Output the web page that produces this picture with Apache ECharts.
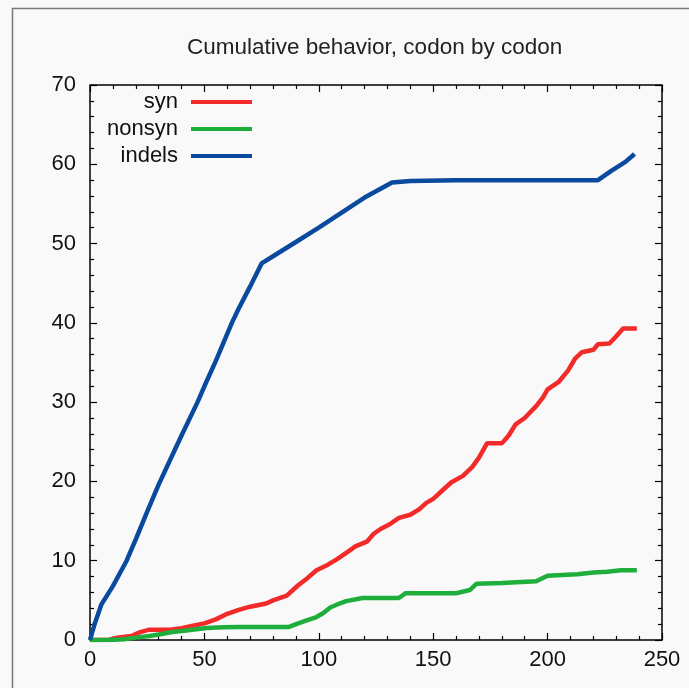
<!DOCTYPE html>
<html>
<head>
<meta charset="utf-8">
<title>Cumulative behavior, codon by codon</title>
<script src="https://cdn.jsdelivr.net/npm/echarts@6/dist/echarts.min.js"></script>
<style>
  html, body { margin: 0; padding: 0; background: #f9f9f9; }
  #chart { width: 689px; height: 688px; }
</style>
</head>
<body>
<div id="chart"></div>
<script>
// tick labels
const xTicks = [0, 50, 100, 150, 200, 250]
const yTicks = [0, 10, 20, 30, 40, 50, 60, 70]

// syn (red)
const synX = [0, 8, 12, 18, 22, 26, 35, 40, 45, 50, 55, 60, 65, 70, 77, 80, 86, 91, 95, 99, 104, 108, 112, 116, 121, 124, 127, 131, 135, 140, 144, 147, 150, 153, 158, 163, 167, 170, 173.5, 180, 183, 186, 190, 195, 198, 200, 205, 209, 212, 215, 220, 222, 227, 229, 233, 239]
const synY = [0, 0, 0.3, 0.5, 1.0, 1.3, 1.3, 1.5, 1.8, 2.1, 2.6, 3.3, 3.8, 4.2, 4.6, 5.0, 5.6, 6.9, 7.8, 8.8, 9.5, 10.2, 11.0, 11.8, 12.4, 13.4, 14.0, 14.6, 15.4, 15.8, 16.5, 17.3, 17.8, 18.6, 19.9, 20.7, 21.8, 23.0, 24.8, 24.8, 25.8, 27.2, 28.0, 29.5, 30.6, 31.6, 32.6, 34.0, 35.5, 36.3, 36.6, 37.3, 37.4, 38.0, 39.3, 39.3]

// nonsyn (green)
const nonsynX = [0, 8, 15, 20, 26, 30, 36, 42, 51, 58, 65, 87, 91, 95, 99, 102, 105, 109, 112, 119, 135, 138, 160, 166, 169, 180, 195, 200, 213, 220, 226, 232, 239]
const nonsynY = [0, 0, 0.1, 0.3, 0.5, 0.7, 1.0, 1.2, 1.5, 1.6, 1.65, 1.65, 2.1, 2.5, 2.9, 3.4, 4.1, 4.6, 4.9, 5.3, 5.3, 5.9, 5.9, 6.3, 7.1, 7.2, 7.4, 8.1, 8.3, 8.5, 8.6, 8.8, 8.8]

// indels (blue)
const indelsX = [0, 2, 5, 10, 16, 20, 25, 30, 35, 40, 47, 50, 55, 62, 65, 70, 75, 80, 90, 100, 110, 120, 132, 140, 160, 180, 200, 222, 228, 234, 238]
const indelsY = [0, 2.0, 4.5, 6.8, 10.0, 12.7, 16.2, 19.6, 22.7, 25.8, 30.0, 32.0, 35.2, 40.0, 41.8, 44.6, 47.5, 48.4, 50.2, 52.0, 53.9, 55.8, 57.7, 57.9, 58.0, 58.0, 58.0, 58.0, 59.2, 60.3, 61.3]

const names = ['syn', 'nonsyn', 'indels']
const colors = ['#f22a2a', '#1fae3c', '#0a4a9e']

function pairs(xs, ys) {
  return xs.map((x, i) => [x, ys[i]])
}

const seriesData = [pairs(synX, synY), pairs(nonsynX, nonsynY), pairs(indelsX, indelsY)]

const font = '"Liberation Sans", Arial, sans-serif'

// gnuplot style: ticks pointing into the plot on all four sides
function makeAxis(pos, ticks, showLabel, margin) {
  return {
    type: 'value',
    position: pos,
    min: ticks[0],
    max: ticks[ticks.length - 1],
    interval: ticks[1] - ticks[0],
    axisLine: { show: false, onZero: false },
    axisTick: { show: true, inside: true, length: 7, lineStyle: { color: '#000', width: 1.2 } },
    minorTick: { show: true, splitNumber: 5, length: 4, lineStyle: { color: '#000', width: 1.2 } },
    splitLine: { show: false },
    axisLabel: {
      show: showLabel,
      margin: margin,
      color: '#111',
      fontSize: 22,
      fontFamily: font
    }
  }
}

let chart = echarts.init(document.getElementById('chart'))
let option = {
  backgroundColor: '#f9f9f9',
  animation: false,
  title: {
    text: 'Cumulative behavior, codon by codon',
    left: 182,
    top: 31,
    textStyle: { color: '#222', fontSize: 22.5, fontWeight: 'normal', fontFamily: font }
  },
  legend: names.map((n, i) => ({
    data: [n],
    orient: 'vertical',
    align: 'right',
    right: 437,
    top: 91 + i * 27,
    padding: 0,
    itemWidth: 61,
    itemHeight: 4,
    icon: 'rect',
    selectedMode: false,
    textStyle: { color: '#111', fontSize: 22, fontFamily: font, padding: [0, 8, 0, 0] }
  })),
  grid: {
    left: 90,
    right: 27,
    top: 85,
    bottom: 48,
    show: true,
    borderColor: '#000',
    borderWidth: 1.5,
    backgroundColor: 'transparent'
  },
  xAxis: [
    makeAxis('bottom', xTicks, true, 9),
    makeAxis('top', xTicks, false, 8)
  ],
  yAxis: [
    makeAxis('left', yTicks, true, 14),
    makeAxis('right', yTicks, false, 8)
  ],
  graphic: [{
    type: 'rect',
    shape: { x: 12.5, y: 8.5, width: 800, height: 800 },
    style: { fill: 'none', stroke: '#777', lineWidth: 1.5 },
    silent: true
  }],
  series: names.map((n, i) => ({
    name: n,
    type: 'line',
    data: seriesData[i],
    showSymbol: false,
    symbol: 'none',
    color: colors[i],
    lineStyle: { color: colors[i], width: 4.5 },
    z: 3
  }))
}
chart.setOption(option)
window.addEventListener('resize', chart.resize)
</script>
</body>
</html>
